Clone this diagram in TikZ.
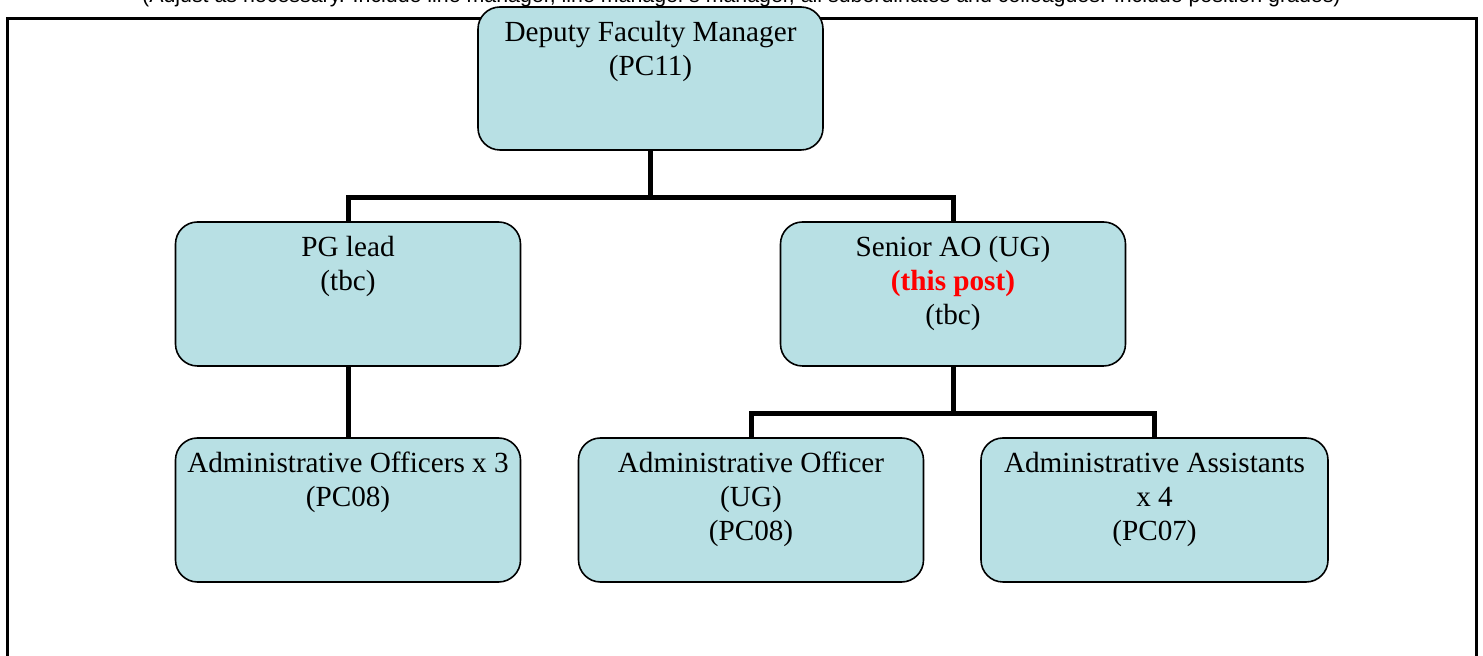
\documentclass[tikz,border=0pt]{standalone}
\usepackage{fontspec}
\setmainfont{Liberation Serif}
\newfontfamily\headfont{Liberation Sans}
\usepackage{tikz}
\usetikzlibrary{positioning}
\definecolor{postFill}{RGB}{184,224,228}
\definecolor{postRed}{RGB}{255,0,0}

\begin{document}
\begin{tikzpicture}[
    x=0.5pt, y=-0.5pt,
    % Styles
    post/.style={
        draw=black,
        line width=0.8pt,
        rounded corners=11pt,
        fill=postFill,
        minimum width=172.5pt,
        minimum height=72pt,
        inner sep=0pt
    },
    % base = baseline of the last line
    posttext/.style={
        anchor=base,
        align=center,
        inner sep=0pt,
        font=\fontsize{14.6pt}{17pt}\selectfont
    },
    link/.style={line width=2.5pt, color=black},
    frame/.style={line width=1.5pt, color=black}
]
    \useasboundingbox (0,0) rectangle (1483,656);

    % ---------------------------------------------------------
    % FRAME + NOTE (cut off at the top)
    % ---------------------------------------------------------
    \draw[frame] (7,670) -- (7,19) -- (1476,19) -- (1476,670);
    \node[anchor=base, inner sep=0pt, font=\headfont\fontsize{10.68pt}{12pt}\selectfont]
        (note) at (741.5,3) {(Adjust as necessary. Include line manager, line manager's manager, all subordinates and colleagues. Include position grades)};

    % ---------------------------------------------------------
    % 1. TOP: DEPUTY FACULTY MANAGER
    % ---------------------------------------------------------
    \node[post, minimum height=71.5pt] (dfm) at (650.5,78.5) {};
    \node[posttext] (dfm-t) at ([yshift=-34.5pt]dfm.north) {Deputy Faculty Manager\\(PC11)};

    % ---------------------------------------------------------
    % 2. MIDDLE: PG LEAD + SENIOR AO
    % ---------------------------------------------------------
    \node[post] (pglead) at (348,294) {};
    \node[post] (seniorao) at (953,294) {};
    \node[posttext] (pglead-t) at ([yshift=-34.5pt]pglead.north) {PG lead\\(tbc)};
    \node[posttext] (seniorao-t) at ([yshift=-51.5pt]seniorao.north)
        {Senior AO (UG)\\\textcolor{postRed}{\textbf{(this post)}}\\(tbc)};

    % ---------------------------------------------------------
    % 3. BOTTOM: OFFICERS + ASSISTANTS
    % ---------------------------------------------------------
    \node[post] (aothree) at (348,510) {};
    \node[post] (aoug) at (751,510) {};
    \node[post, minimum width=173.5pt] (aafour) at (1154.5,510) {};
    \node[posttext] (aothree-t) at ([yshift=-34.5pt]aothree.north) {Administrative Officers x 3\\(PC08)};
    \node[posttext] (aoug-t) at ([yshift=-51.5pt]aoug.north) {Administrative Officer\\(UG)\\(PC08)};
    \node[posttext] (aafour-t) at ([yshift=-51.5pt]aafour.north) {Administrative Assistants\\x 4\\(PC07)};

    % ---------------------------------------------------------
    % CONNECTIONS
    % ---------------------------------------------------------
    \draw[link] (dfm.south) -- ++(0,47) -| (pglead.north);
    \draw[link] (dfm.south) -- ++(0,47) -| (seniorao.north);
    \draw[link] (pglead.south) -- (aothree.north);
    \draw[link] (seniorao.south) -- ++(0,47) -| (aoug.north);
    \draw[link] (seniorao.south) -- ++(0,47) -| (aafour.north);

\end{tikzpicture}
\end{document}
